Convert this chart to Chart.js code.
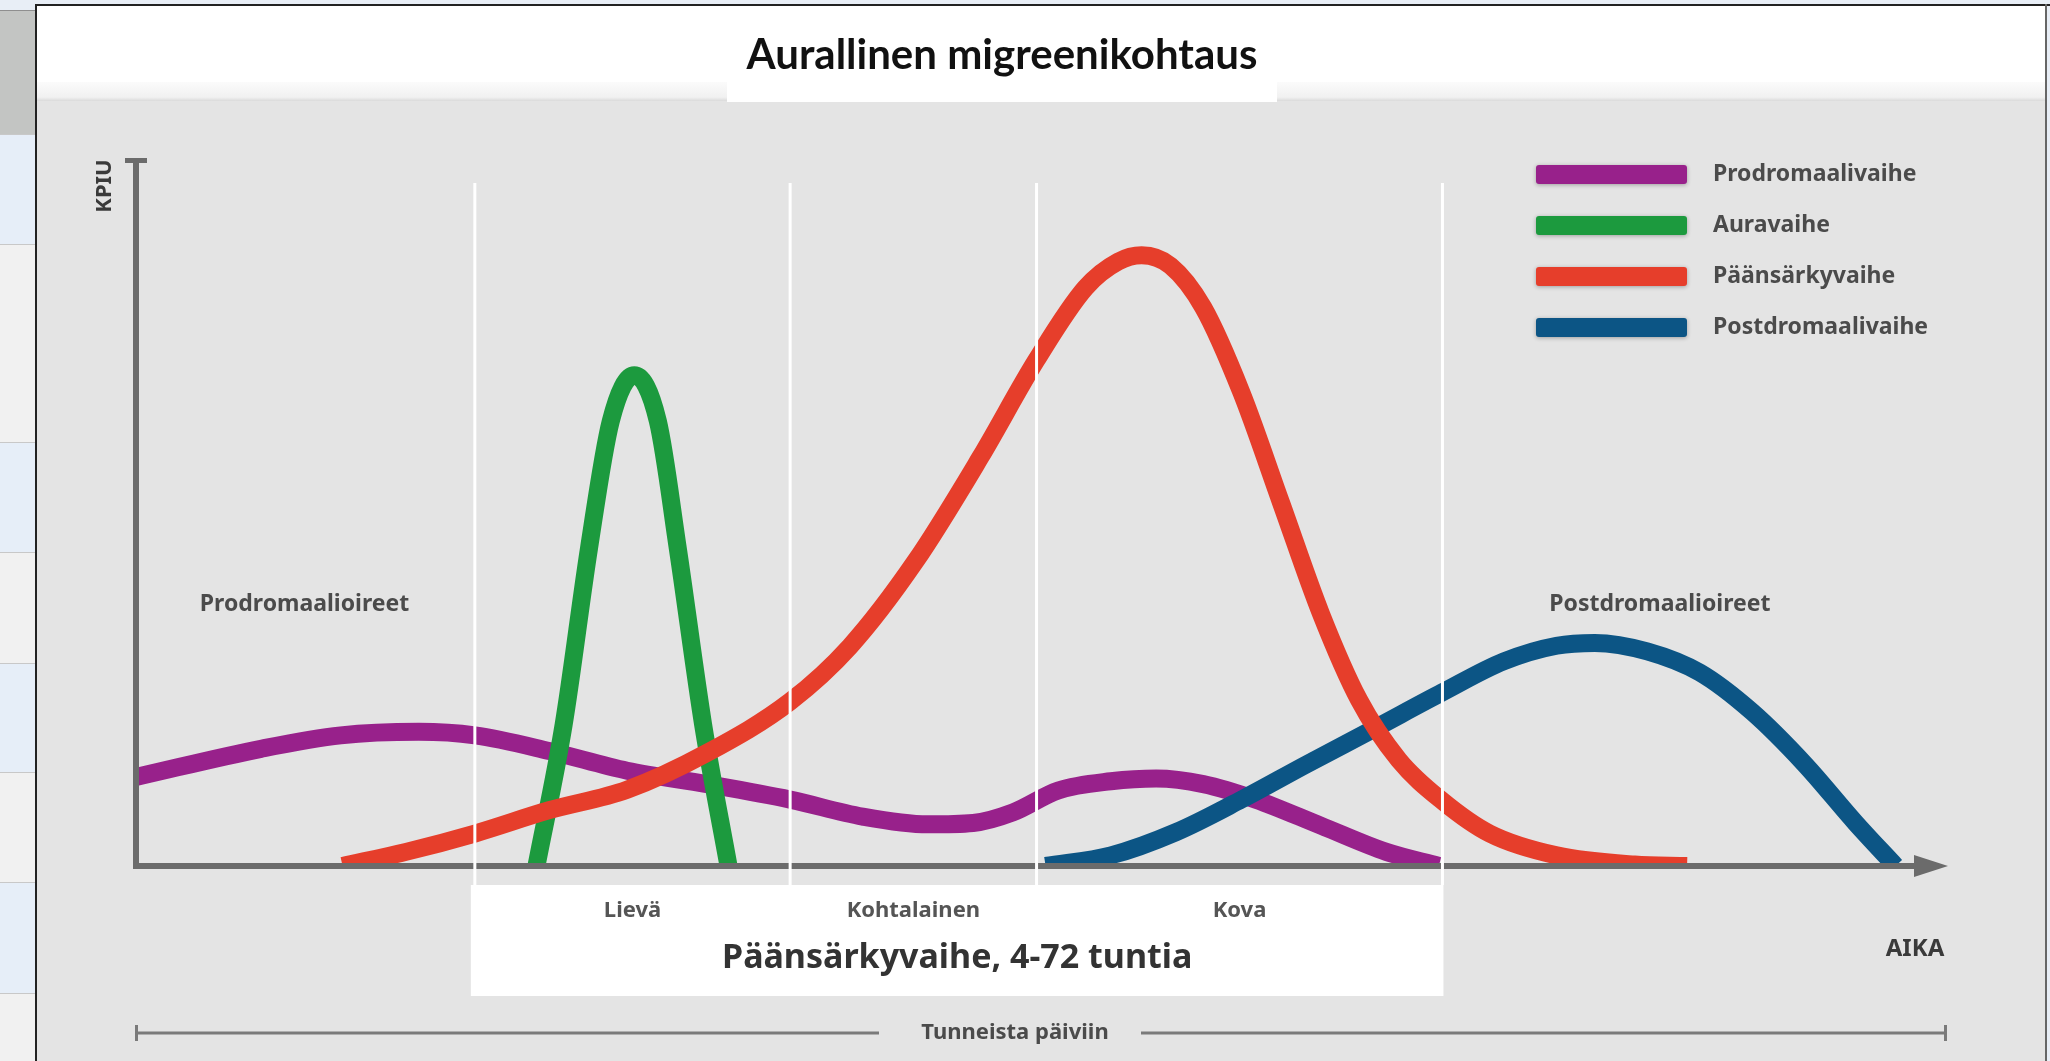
<!DOCTYPE html>
<html lang="fi">
<head>
<meta charset="utf-8">
<title>Aurallinen migreenikohtaus</title>
<script src="https://cdn.jsdelivr.net/npm/chart.js@4.4.1/dist/chart.umd.min.js"></script>
<style>
  html, body { margin: 0; padding: 0; background: #e8eef6; overflow: hidden; }
  #wrap { position: relative; width: 2050px; height: 1061px; }
</style>
</head>
<body>
<div id="wrap"><canvas id="migraineChart"></canvas></div>
<script>
// Aika (x) on suhteellinen asteikko 0-100, kipu (y) 0-100
const seriesLabels = ['Prodromaalivaihe', 'Auravaihe', 'Päänsärkyvaihe', 'Postdromaalivaihe'];
const seriesColors = ['#98218b', '#1c9a3e', '#e63e2b', '#0c5585'];

const prodromalTime = [0, 6.9, 11.3, 15.6, 18.7, 22.8, 27.1, 31.5, 36.1, 40.1, 43.7, 46.2, 48.4, 50.9, 53.8, 56.3, 58.9, 61.8, 65.4, 69.0, 71.9];
const prodromalPain = [12.6, 16.6, 18.5, 19.0, 18.5, 16.3, 13.5, 11.6, 9.4, 7.0, 5.9, 6.1, 7.6, 10.7, 12.0, 12.4, 11.6, 9.4, 5.7, 2.0, 0];

const auraTime = [22.1, 23.6, 25.0, 26.2, 27.5, 28.8, 29.9, 31.3, 32.7];
const auraPain = [0, 20, 45, 63, 69.5, 63, 45, 20, 0];

const headacheTime = [11.4, 14.9, 18.7, 22.8, 27.1, 31.5, 36.1, 39.4, 43.0, 46.6, 49.7, 52.4, 54.2, 55.5, 57.1, 58.9, 61.0, 63.2, 65.4, 67.5, 69.7, 72.1, 74.7, 78.4, 82.7, 85.6];
const headachePain = [0, 2.0, 4.6, 7.9, 10.8, 16.0, 23.3, 31.1, 43.1, 57.9, 71.7, 81.9, 85.6, 86.5, 85.0, 79.1, 67.1, 51.4, 35.7, 23.5, 15.0, 9.2, 4.6, 1.5, 0.2, 0];

const postdromalTime = [50.2, 53.8, 57.4, 61.0, 64.6, 68.3, 72.1, 75.5, 78.4, 80.5, 83.4, 86.3, 89.2, 92.1, 94.9, 97.1];
const postdromalPain = [0, 1.5, 4.8, 9.4, 14.4, 19.4, 24.6, 29.0, 31.2, 31.6, 30.4, 27.4, 21.8, 14.4, 6.1, 0];

// vaiheiden rajat aika-akselilla ja vaikeusasteet
const phaseBounds = [18.7, 36.1, 49.7, 72.1];
const severityLabels = ['Lievä', 'Kohtalainen', 'Kova'];

const seriesTimes = [prodromalTime, auraTime, headacheTime, postdromalTime];
const seriesPains = [prodromalPain, auraPain, headachePain, postdromalPain];
// piirtojärjestys: punainen päällimmäisenä
const drawOrder = [3, 2, 0, 1];

const FONT = '"Noto Sans", "DejaVu Sans", sans-serif';
const TEXT_GRAY = '#4b4b4b';

function roundRect(ctx, x, y, w, h, r) {
    ctx.beginPath();
    ctx.moveTo(x + r, y);
    ctx.lineTo(x + w - r, y);
    ctx.quadraticCurveTo(x + w, y, x + w, y + r);
    ctx.lineTo(x + w, y + h - r);
    ctx.quadraticCurveTo(x + w, y + h, x + w - r, y + h);
    ctx.lineTo(x + r, y + h);
    ctx.quadraticCurveTo(x, y + h, x, y + h - r);
    ctx.lineTo(x, y + r);
    ctx.quadraticCurveTo(x, y, x + r, y);
    ctx.closePath();
}

const backdropPlugin = {
    id: 'backdrop',
    beforeDraw(chart) {
        const ctx = chart.ctx;
        const W = chart.width, H = chart.height;
        const xs = chart.scales.x, ys = chart.scales.y;
        ctx.save();

        // vasen reunakaistale (taulukon rivit)
        ctx.fillStyle = '#e8eef6';
        ctx.fillRect(0, 0, W, H);
        const rows = [134, 244, 442, 552, 663, 772, 882, 993, H];
        ctx.fillStyle = '#c3c5c3';
        ctx.fillRect(0, 10, 36, 124);
        let prev = 134;
        rows.slice(1).forEach((r, i) => {
            ctx.fillStyle = i % 2 === 0 ? '#e6eef8' : '#f1f1f1';
            ctx.fillRect(0, prev, 36, r - prev);
            prev = r;
        });
        ctx.fillStyle = '#c8c8c8';
        rows.slice(0, -1).forEach(r => ctx.fillRect(0, r, 36, 1));
        ctx.fillStyle = '#8f8f8f';
        ctx.fillRect(0, 10, 36, 1);

        // kehys, otsikkokaista ja harmaa pohja
        ctx.fillStyle = '#ffffff';
        ctx.fillRect(36, 5, W - 40, 80);
        const grad = ctx.createLinearGradient(0, 82, 0, 101);
        grad.addColorStop(0, '#fbfbfb');
        grad.addColorStop(0.8, '#f1f1f1');
        grad.addColorStop(1, '#dadada');
        ctx.fillStyle = grad;
        ctx.fillRect(36, 82, W - 40, 19);
        ctx.fillStyle = '#e4e4e4';
        ctx.fillRect(36, 101, W - 40, H - 101);

        ctx.fillStyle = '#ffffff';
        ctx.fillRect(727, 5, 550, 97);

        ctx.fillStyle = '#222';
        ctx.fillRect(35, 4, 2, H);
        ctx.fillRect(35, 4, W - 35, 2);
        ctx.fillStyle = '#666';
        ctx.fillRect(2045, 4, 2, H);

        // otsikko
        ctx.fillStyle = '#111';
        ctx.font = 'bold 42px Lato, ' + FONT;
        ctx.textAlign = 'center';
        ctx.textBaseline = 'middle';
        ctx.fillText('Aurallinen migreenikohtaus', 1002, 55);

        // valkoinen vaihelaatikko
        const bx0 = xs.getPixelForValue(phaseBounds[0]) - 4;
        const bx1 = xs.getPixelForValue(phaseBounds[3]) + 1;
        ctx.fillStyle = '#ffffff';
        ctx.fillRect(bx0, 885, bx1 - bx0, 111);

        ctx.fillStyle = '#555';
        ctx.font = 'bold 22px ' + FONT;
        severityLabels.forEach((lab, i) => {
            const mid = (phaseBounds[i] + phaseBounds[i + 1]) / 2;
            ctx.fillText(lab, xs.getPixelForValue(mid), 911);
        });
        ctx.fillStyle = '#333';
        ctx.font = 'bold 34px ' + FONT;
        ctx.fillText('Päänsärkyvaihe, 4-72 tuntia', (bx0 + bx1) / 2, 958);

        // akselien nimet ja vaiheiden oireet
        ctx.fillStyle = '#3a3a3a';
        ctx.font = 'bold 24px ' + FONT;
        ctx.fillText('AIKA', 1915, 949);
        ctx.save();
        ctx.translate(105, 186);
        ctx.rotate(-Math.PI / 2);
        ctx.font = 'bold 22px ' + FONT;
        ctx.fillText('KPIU', 0, 0);
        ctx.restore();

        ctx.fillStyle = TEXT_GRAY;
        ctx.font = 'bold 23px ' + FONT;
        ctx.fillText('Prodromaalioireet', xs.getPixelForValue(9.3), ys.getPixelForValue(37));
        ctx.fillText('Postdromaalioireet', xs.getPixelForValue(84.1), ys.getPixelForValue(37));

        // kesto: tunneista päiviin
        const lx0 = xs.getPixelForValue(0), lx1 = xs.getPixelForValue(100) - 3;
        const ly = 1033;
        ctx.font = 'bold 22px ' + FONT;
        ctx.fillStyle = TEXT_GRAY;
        ctx.fillText('Tunneista päiviin', 1015, ly);
        ctx.fillStyle = '#7a7a7a';
        ctx.fillRect(lx0, ly - 1.5, 879 - lx0, 3);
        ctx.fillRect(1141, ly - 1.5, lx1 - 1141, 3);
        ctx.fillRect(lx0 - 1, ly - 8, 3, 16);
        ctx.fillRect(lx1 - 1, ly - 8, 3, 16);

        ctx.restore();
    },
    afterDatasetsDraw(chart) {
        const ctx = chart.ctx;
        const xs = chart.scales.x, ys = chart.scales.y;
        const x0 = xs.getPixelForValue(0), x1 = xs.getPixelForValue(100);
        const y0 = ys.getPixelForValue(0), y1 = ys.getPixelForValue(100);
        ctx.save();

        // akselit
        ctx.fillStyle = '#6b6b6b';
        ctx.fillRect(x0 - 3, y1, 6, y0 - y1 + 3);
        ctx.fillRect(x0 - 11, y1 - 2, 22, 5);
        ctx.fillRect(x0 - 3, y0 - 3, x1 - 28 - x0, 6);
        ctx.beginPath();
        ctx.moveTo(x1, y0);
        ctx.lineTo(x1 - 34, y0 - 11);
        ctx.lineTo(x1 - 34, y0 + 11);
        ctx.closePath();
        ctx.fill();

        // vaiheiden valkoiset rajaviivat
        ctx.fillStyle = '#ffffff';
        phaseBounds.forEach(b => {
            const px = xs.getPixelForValue(b);
            ctx.fillRect(px - 1.5, 183, 3, 885 - 183);
        });

        // selite
        ctx.textAlign = 'left';
        ctx.textBaseline = 'middle';
        ctx.font = 'bold 23px ' + FONT;
        seriesLabels.forEach((lab, i) => {
            const cy = 174 + i * 51;
            ctx.save();
            ctx.shadowColor = 'rgba(0,0,0,0.3)';
            ctx.shadowBlur = 4;
            ctx.shadowOffsetY = 1;
            ctx.fillStyle = seriesColors[i];
            roundRect(ctx, 1536, cy - 9, 151, 19, 3);
            ctx.fill();
            ctx.restore();
            ctx.fillStyle = TEXT_GRAY;
            ctx.fillText(lab, 1713, cy);
        });
        ctx.restore();
    }
};

const datasets = seriesLabels.map((label, i) => ({
    label: label,
    data: seriesTimes[i].map((t, j) => ({ x: t, y: seriesPains[i][j] })),
    borderColor: seriesColors[i],
    backgroundColor: seriesColors[i],
    borderWidth: 18,
    pointRadius: 0,
    fill: false,
    cubicInterpolationMode: 'monotone',
    borderCapStyle: 'butt',
    borderJoinStyle: 'round',
    order: drawOrder[i],
    clip: { left: 0, top: false, right: false, bottom: 0 }
}));

new Chart(document.getElementById('migraineChart'), {
    type: 'line',
    data: { datasets: datasets },
    options: {
        responsive: true,
        maintainAspectRatio: false,
        animation: false,
        devicePixelRatio: 1,
        layout: { padding: { left: 136, right: 102, top: 160, bottom: 195 } },
        plugins: {
            legend: { display: false },
            title: { display: false },
            tooltip: { enabled: false }
        },
        scales: {
            x: { type: 'linear', min: 0, max: 100, display: false },
            y: { min: 0, max: 100, display: false }
        }
    },
    plugins: [backdropPlugin]
});
</script>
</body>
</html>
